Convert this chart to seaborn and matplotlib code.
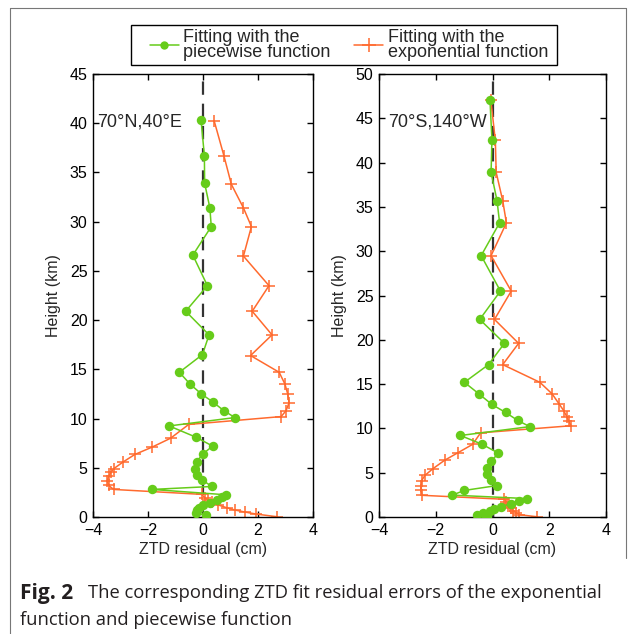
import matplotlib
matplotlib.use("Agg")
import matplotlib.pyplot as plt
import seaborn as sns
import pandas as pd
from matplotlib.lines import Line2D
from matplotlib.patches import Rectangle

# --- data (residual in cm, height in km) ---
north_pw_res = [-0.07, 0.05, 0.06, 0.25, 0.30, -0.37, 0.16, -0.63, 0.22, -0.02, -0.86, -0.47, -0.06,
                0.35, 0.76, 1.16, -1.23, -0.25, 0.35, -0.01, -0.23, -0.28, -0.21, -0.02, 0.32, -1.85,
                0.82, 0.68, 0.52, 0.25, 0.01, -0.13, -0.23, -0.25, 0.10]
north_pw_h = [40.3, 36.7, 33.9, 31.4, 29.5, 26.6, 23.5, 20.9, 18.5, 16.5, 14.7, 13.5, 12.5,
              11.7, 10.8, 10.1, 9.25, 8.1, 7.2, 6.4, 5.6, 4.9, 4.3, 3.75, 3.1, 2.8,
              2.26, 2.0, 1.72, 1.45, 1.18, 0.94, 0.71, 0.44, 0.17]

north_exp_res = [0.41, 0.76, 1.03, 1.47, 1.76, 1.47, 2.40, 1.79, 2.51, 1.73, 2.77, 2.98, 3.08, 3.13,
                 3.02, 2.84, -0.52, -1.18, -1.85, -2.48, -2.90, -3.25, -3.33, -3.43, -3.48, -3.43,
                 -3.25, -0.05, 0.07, 0.19, 0.32, 0.56, 0.86, 1.16, 1.53, 1.93, 2.68]
north_exp_h = [40.2, 36.7, 33.8, 31.4, 29.5, 26.5, 23.5, 20.9, 18.5, 16.4, 14.7, 13.5, 12.5, 11.6,
               10.8, 10.2, 9.4, 8.0, 7.1, 6.35, 5.6, 4.9, 4.6, 4.15, 3.7, 3.2,
               2.8, 2.3, 1.96, 1.72, 1.5, 1.22, 0.94, 0.71, 0.5, 0.3, 0.03]

south_pw_res = [-0.09, -0.02, -0.05, 0.16, 0.25, -0.40, 0.28, -0.45, 0.42, -0.14, -0.99, -0.48, -0.02,
                0.46, 0.89, 1.31, -1.13, -0.36, 0.21, -0.05, -0.19, -0.19, -0.07, 0.16, -0.99, -1.42,
                1.22, 0.95, 0.64, 0.31, 0.04, -0.10, -0.32, -0.55, -0.19]
south_pw_h = [47.1, 42.6, 38.9, 35.7, 33.2, 29.5, 25.5, 22.3, 19.6, 17.2, 15.2, 13.9, 12.7,
              11.8, 10.9, 10.2, 9.2, 8.2, 7.2, 6.3, 5.5, 4.8, 4.2, 3.55, 3.0, 2.47,
              2.08, 1.8, 1.5, 1.17, 0.9, 0.68, 0.5, 0.25, 0.05]

south_exp_res = [-0.06, 0.10, 0.13, 0.36, 0.49, -0.05, 0.66, 0.07, 0.92, 0.36, 1.67, 2.10, 2.36, 2.51,
                 2.62, 2.69, 2.77, -0.42, -0.70, -1.22, -1.69, -2.10, -2.38, -2.50, -2.51, -2.51,
                 -2.49, 0.42, 0.48, 0.54, 0.60, 0.66, 0.74, 0.83, 0.95, 1.56]
south_exp_h = [47.1, 42.5, 38.9, 35.7, 33.2, 29.5, 25.5, 22.3, 19.6, 17.2, 15.2, 13.9, 12.7, 12.0,
               11.3, 10.8, 10.3, 9.5, 8.2, 7.25, 6.4, 5.45, 4.7, 4.1, 3.55, 3.05,
               2.45, 2.0, 1.74, 1.48, 1.25, 0.99, 0.72, 0.5, 0.26, 0.03]

site_labels = ["70°N,40°E", "70°S,140°W"]
site_ymax = [45, 50]
series_names = ["Fitting with the\npiecewise function", "Fitting with the\nexponential function"]

GREEN = "#66cc1a"
ORANGE = "#ff6a2e"

sns.set_style("ticks")
plt.rcParams["font.family"] = ["Liberation Sans", "DejaVu Sans"]

fig = plt.figure(figsize=(6.34, 6.34), dpi=100)
W = H = 634.0


def px_axes(x0, y0, x1, y1):
    return fig.add_axes([x0 / W, 1 - y1 / H, (x1 - x0) / W, (y1 - y0) / H])


ax_n = px_axes(93, 74, 313, 517)
ax_s = px_axes(379, 74, 606, 517)

panels = [
    (ax_n, north_pw_res, north_pw_h, north_exp_res, north_exp_h, 0.018),
    (ax_s, south_pw_res, south_pw_h, south_exp_res, south_exp_h, 0.040),
]

for i, (ax, pr, ph, er, eh, lab_x) in enumerate(panels):
    df_pw = pd.DataFrame({"res": pr, "h": ph})
    df_exp = pd.DataFrame({"res": er, "h": eh})
    ax.axvline(0, color="#333333", ls=(0, (6, 4)), lw=1.6, zorder=1)
    sns.lineplot(data=df_pw, x="res", y="h", sort=False, estimator=None, ax=ax,
                 color=GREEN, lw=1.1, marker="o", markersize=6.8, markeredgewidth=0,
                 markeredgecolor=GREEN, zorder=3)
    sns.lineplot(data=df_exp, x="res", y="h", sort=False, estimator=None, ax=ax,
                 color=ORANGE, lw=1.1, marker="+", markersize=9, markeredgewidth=1.1,
                 markeredgecolor=ORANGE, zorder=2)
    ax.set_xlim(-4, 4)
    ax.set_ylim(0, site_ymax[i])
    ax.set_xticks([-4, -2, 0, 2, 4])
    ax.set_yticks(range(0, site_ymax[i] + 1, 5))
    ax.tick_params(direction="in", top=True, right=True, length=4, width=1,
                   labelsize=11.5, colors="black", pad=4)
    for sp in ax.spines.values():
        sp.set_linewidth(1)
        sp.set_color("black")
    ax.set_xlabel("ZTD residual (cm)", fontsize=11.5, labelpad=3)
    ax.set_ylabel("Height (km)", fontsize=11.5, labelpad=6)
    ax.text(lab_x, 0.892, site_labels[i], transform=ax.transAxes, fontsize=13,
            ha="left", va="center")

handles = [
    Line2D([], [], color=GREEN, lw=1.1, marker="o", markersize=6, markeredgewidth=0),
    Line2D([], [], color=ORANGE, lw=1.1, marker="+", markersize=10, markeredgewidth=1.1),
]
leg = fig.legend(handles, series_names, ncol=2, loc="center",
                 bbox_to_anchor=(349 / W, 1 - 45 / H), frameon=False,
                 fontsize=13, handlelength=1.6, handletextpad=0.25, columnspacing=1.3,
                 borderpad=0.1, labelspacing=0.2)
for t in leg.get_texts():
    t.set_linespacing(0.85)
# legend box
fig.add_artist(Rectangle((131 / W, 1 - 65 / H), (557 - 131) / W, 40 / H,
                         transform=fig.transFigure, fill=False, ec="black", lw=1))

# page frame around the figure
frame_kw = dict(color="#777777", lw=0.8, transform=fig.transFigure)
fig.add_artist(Line2D([10 / W, 10 / W], [0, 1 - 8 / H], **frame_kw))
fig.add_artist(Line2D([10 / W, 626 / W], [1 - 8 / H, 1 - 8 / H], **frame_kw))
fig.add_artist(Line2D([626 / W, 626 / W], [1 - 8 / H, 1 - 558 / H], **frame_kw))

# caption
cap_color = "#231f20"
cap_font = ["Open Sans", "DejaVu Sans"]
fig.text(20 / W, 1 - 593 / H, "Fig. 2", fontsize=15, fontweight="bold",
         family=cap_font, color=cap_color, va="center")
fig.text(88 / W, 1 - 593 / H, "The corresponding ZTD fit residual errors of the exponential",
         fontsize=13.2, family=cap_font, color=cap_color, va="center")
fig.text(20 / W, 1 - 620 / H, "function and piecewise function",
         fontsize=13.2, family=cap_font, color=cap_color, va="center")

fig.savefig("out.png", dpi=100)
